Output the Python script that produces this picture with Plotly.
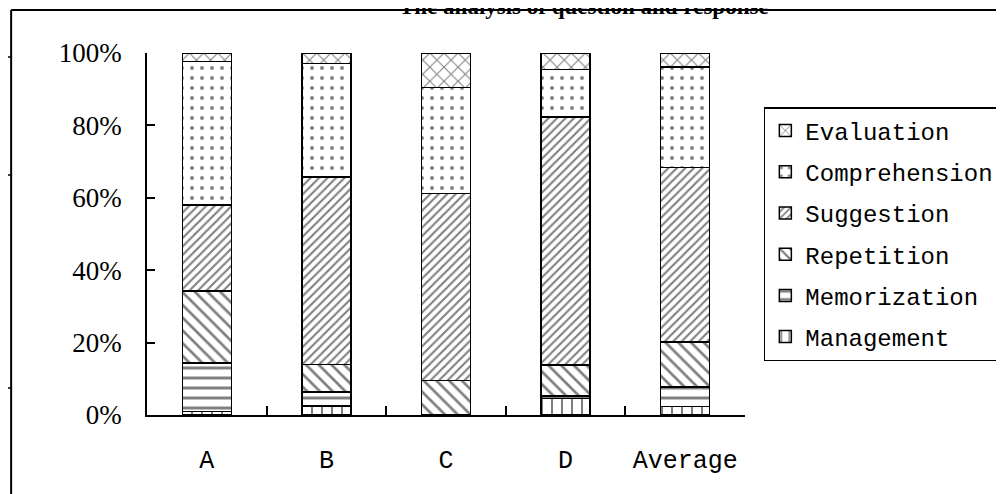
import plotly.graph_objects as go

categories = ["A", "B", "C", "D", "Average"]
series_names = ["Management", "Memorization", "Repetition", "Suggestion", "Comprehension", "Evaluation"]
management = [1.0, 2.5, 0.0, 4.6, 2.3]
memorization = [13.3, 3.8, 0.0, 0.6, 5.5]
repetition = [20.0, 7.7, 9.5, 8.6, 12.4]
suggestion = [23.7, 51.8, 51.7, 68.5, 48.2]
comprehension = [39.7, 31.3, 29.3, 13.1, 27.7]
evaluation = [2.3, 2.9, 9.5, 4.6, 3.9]
y_ticks = [0, 20, 40, 60, 80, 100]
y_tick_labels = ["0%", "20%", "40%", "60%", "80%", "100%"]

values = [management, memorization, repetition, suggestion, comprehension, evaluation]
patterns = [
    dict(shape="|", size=10, solidity=0.2),
    dict(shape="-", size=10, solidity=0.3),
    dict(shape="\\", size=9, solidity=0.3),
    dict(shape="/", size=6, solidity=0.35),
    dict(shape=".", size=10, solidity=0.12),
    dict(shape="x", size=10, solidity=0.2),
]

# the page shows the figure with an 8px offset; design in window pixels
OFF = 8
W, H = 1004, 494
L, R, T, B = 147 - OFF, 750 - OFF, 53 - OFF, 415 - OFF


def px(x):
    return (x - OFF - L) / (R - L)


def py(y):
    return (B - (y - OFF)) / (B - T)


fig = go.Figure()
n = len(series_names)
for i, (name, vals, pat) in enumerate(zip(series_names, values, patterns)):
    fig.add_trace(go.Bar(
        name=name, x=categories, y=vals, width=0.41, legendgroup=name,
        legendrank=n - i,
        marker=dict(color="white", line=dict(color="black", width=1.5),
                    pattern=dict(fgcolor="black", bgcolor="white", **pat)),
    ))

fig.update_layout(
    width=W, height=H, barmode="stack",
    margin=dict(l=L, r=W - R, t=T, b=H - B, pad=0),
    paper_bgcolor="white", plot_bgcolor="white",
    showlegend=True,
    legend=dict(
        x=px(769), y=py(107), xanchor="left", yanchor="top",
        bordercolor="black", borderwidth=1.5, bgcolor="white",
        font=dict(family="Liberation Mono", size=24, color="black"),
        traceorder="grouped", tracegroupgap=7,
    ),
    xaxis=dict(
        type="category", showline=True, linecolor="black", linewidth=1.5,
        ticks="inside", ticklen=9, tickwidth=1.5, tickcolor="black", tickson="boundaries",
        showgrid=False, ticklabelstandoff=21,
        tickfont=dict(family="Liberation Mono", size=25, color="black"),
    ),
    yaxis=dict(
        range=[0, 100], tickvals=y_ticks, ticktext=y_tick_labels, showline=True,
        linecolor="black", linewidth=1.5, ticks="inside", ticklen=8, tickwidth=1.5,
        tickcolor="black", showgrid=False, zeroline=False, ticklabelstandoff=18,
        tickfont=dict(family="Liberation Serif", size=27, color="black"),
    ),
    annotations=[dict(
        text="<b>The analysis of question and response</b>", xref="paper", yref="paper",
        x=px(588), y=py(6), xanchor="center", yanchor="middle", showarrow=False,
        font=dict(family="Liberation Serif", size=23, color="black"),
    )],
    shapes=[
        dict(type="line", xref="paper", yref="paper", x0=px(10), x1=px(10), y0=py(10), y1=py(520),
             line=dict(color="black", width=2)),
        dict(type="line", xref="paper", yref="paper", x0=px(10), x1=px(1030), y0=py(10), y1=py(10),
             line=dict(color="black", width=2)),
        dict(type="line", xref="paper", yref="paper", x0=px(6), x1=px(10), y0=py(57), y1=py(57),
             line=dict(color="black", width=1.5)),
        dict(type="line", xref="paper", yref="paper", x0=px(6), x1=px(10), y0=py(175), y1=py(175),
             line=dict(color="black", width=1.5)),
        dict(type="line", xref="paper", yref="paper", x0=px(6), x1=px(10), y0=py(388), y1=py(388),
             line=dict(color="black", width=1.5)),
    ],
)

fig.write_html("out.html")
